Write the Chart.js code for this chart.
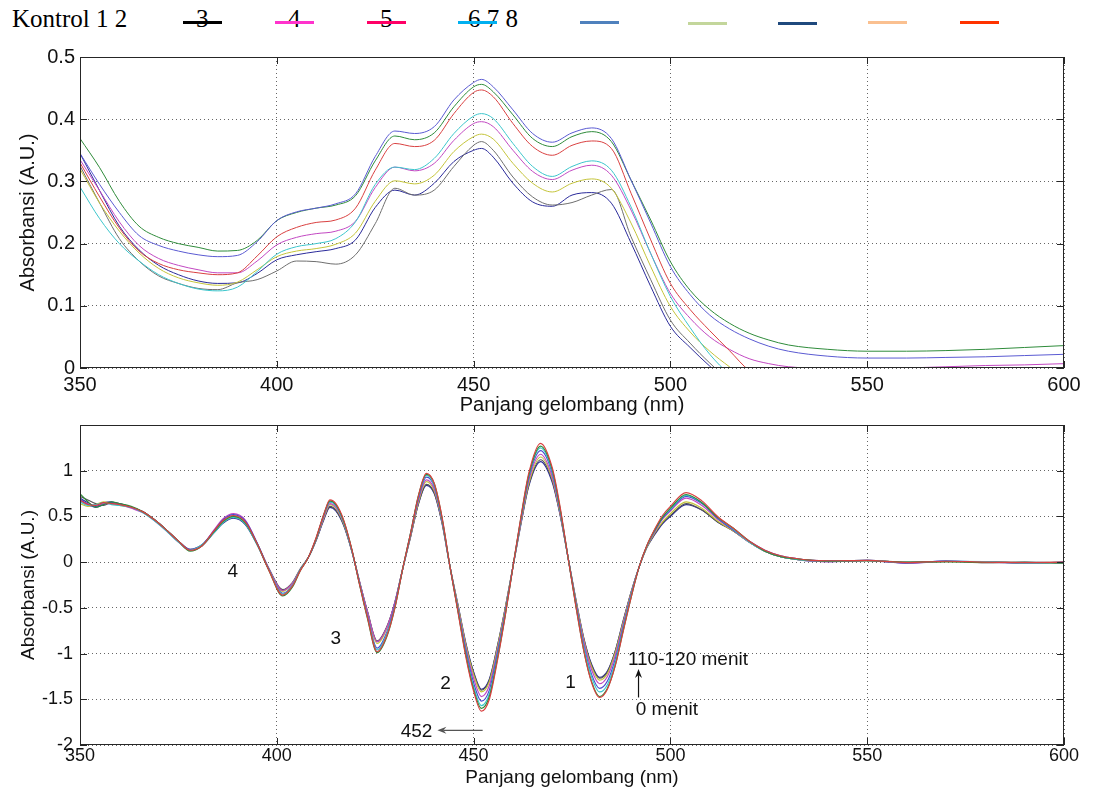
<!DOCTYPE html>
<html>
<head>
<meta charset="utf-8">
<title>Absorbansi</title>
<script src="https://cdn.jsdelivr.net/npm/chart.js@4.4.1/dist/chart.umd.min.js"></script>
<style>
  html, body { margin: 0; padding: 0; background: #fff; }
  #page { position: relative; width: 1093px; height: 790px; overflow: hidden; }
  .box { position: absolute; left: 0; width: 1093px; }
  #topBox { top: 40px; height: 380px; }
  #bottomBox { top: 400px; height: 390px; }
  .legend { position: absolute; top: 0; left: 0; width: 1093px; height: 40px;
    font-family: "Liberation Serif", "Times New Roman", serif; font-size: 25px; color: #000; }
  .legend span { position: absolute; top: 5px; line-height: 27px; white-space: pre; }
  .legend i { position: absolute; height: 3px; width: 39px; }
</style>
</head>
<body>
<div id="page">
  <div class="legend">
    <span style="left:12px">Kontrol 1 2</span>
    <span style="left:196px">3</span>
    <span style="left:288px">4</span>
    <span style="left:380px">5</span>
    <span style="left:468px">6 7 8</span>
    <i style="left:183px; top:21px; background:#000"></i>
    <i style="left:275px; top:21px; background:#ff33cc"></i>
    <i style="left:367px; top:21px; background:#ff0066"></i>
    <i style="left:458px; top:21px; background:#00b0f0"></i>
    <i style="left:580px; top:21px; background:#4f81bd"></i>
    <i style="left:688px; top:22px; background:#c3d69b"></i>
    <i style="left:778px; top:22px; background:#1f497d"></i>
    <i style="left:868px; top:21px; background:#fac090"></i>
    <i style="left:960px; top:21px; background:#ff3300"></i>
  </div>
  <div class="box" id="topBox"><canvas id="absorbansi"></canvas></div>
  <div class="box" id="bottomBox"><canvas id="derivatif"></canvas></div>
</div>

<script>
const FONT = '"Liberation Sans", Arial, Helvetica, sans-serif';

// ---------- spektrum absorbansi ----------
const TOP_WL = [350, 355, 360, 365, 370, 375, 380, 385, 390, 395,
  400, 405, 410, 415, 420, 425, 430, 435, 440, 445,
  450, 452, 455, 460, 465, 470, 475, 480, 485, 490,
  495, 500, 505, 510, 515, 520, 525, 530, 540, 550,
  560, 570, 580, 590, 600];

const topBlue = [0.345, 0.295, 0.250, 0.213, 0.197, 0.188, 0.182, 0.179, 0.181, 0.203,
  0.237, 0.251, 0.257, 0.264, 0.280, 0.340, 0.381, 0.377, 0.388, 0.431,
  0.459, 0.464, 0.452, 0.415, 0.377, 0.363, 0.378, 0.386, 0.369, 0.302,
  0.233, 0.163, 0.118, 0.085, 0.063, 0.047, 0.035, 0.027, 0.019, 0.016,
  0.016, 0.017, 0.018, 0.020, 0.022];
const topGreen = [0.369, 0.322, 0.268, 0.228, 0.210, 0.200, 0.194, 0.188, 0.189, 0.205,
  0.237, 0.250, 0.257, 0.262, 0.277, 0.333, 0.373, 0.367, 0.378, 0.420,
  0.452, 0.456, 0.444, 0.407, 0.369, 0.356, 0.372, 0.380, 0.364, 0.302,
  0.238, 0.171, 0.125, 0.094, 0.072, 0.056, 0.045, 0.037, 0.030, 0.027,
  0.027, 0.028, 0.030, 0.033, 0.036];
const topRed = [0.330, 0.275, 0.225, 0.188, 0.168, 0.158, 0.153, 0.150, 0.153, 0.180,
  0.211, 0.226, 0.234, 0.238, 0.257, 0.318, 0.361, 0.356, 0.366, 0.409,
  0.443, 0.447, 0.436, 0.393, 0.356, 0.342, 0.358, 0.365, 0.353, 0.281,
  0.206, 0.136, 0.094, 0.060, 0.028, -0.004, -0.020, -0.030, -0.040, -0.045,
  -0.050, -0.050, -0.050, -0.050, -0.050];
const topCyan = [0.291, 0.240, 0.200, 0.172, 0.150, 0.136, 0.127, 0.124, 0.130, 0.155,
  0.183, 0.195, 0.200, 0.208, 0.235, 0.295, 0.323, 0.319, 0.337, 0.377,
  0.405, 0.409, 0.401, 0.361, 0.324, 0.308, 0.324, 0.333, 0.318, 0.259,
  0.184, 0.115, 0.065, 0.022, -0.010, -0.030, -0.045, -0.050, -0.050, -0.050,
  -0.050, -0.050, -0.050, -0.050, -0.050];
const topMagenta = [0.335, 0.285, 0.235, 0.197, 0.176, 0.165, 0.158, 0.153, 0.153, 0.172,
  0.198, 0.210, 0.216, 0.220, 0.236, 0.290, 0.323, 0.317, 0.329, 0.366,
  0.393, 0.396, 0.388, 0.350, 0.316, 0.303, 0.318, 0.326, 0.310, 0.254,
  0.184, 0.120, 0.080, 0.050, 0.030, 0.015, 0.007, 0.002, -0.001, -0.002,
  0.000, 0.002, 0.004, 0.005, 0.007];
const topYellow = [0.320, 0.265, 0.220, 0.185, 0.160, 0.145, 0.137, 0.133, 0.138, 0.158,
  0.179, 0.188, 0.192, 0.199, 0.217, 0.268, 0.301, 0.296, 0.310, 0.348,
  0.372, 0.376, 0.368, 0.329, 0.297, 0.283, 0.297, 0.304, 0.289, 0.233,
  0.163, 0.099, 0.058, 0.027, 0.002, -0.020, -0.035, -0.045, -0.050, -0.050,
  -0.050, -0.050, -0.050, -0.050, -0.050];
const topGray = [0.325, 0.265, 0.208, 0.172, 0.148, 0.136, 0.128, 0.126, 0.137, 0.142,
  0.156, 0.172, 0.171, 0.167, 0.182, 0.232, 0.289, 0.278, 0.286, 0.324,
  0.358, 0.364, 0.350, 0.307, 0.275, 0.262, 0.266, 0.278, 0.287, 0.211,
  0.142, 0.077, 0.040, 0.008, -0.020, -0.040, -0.050, -0.050, -0.050, -0.050,
  -0.050, -0.050, -0.050, -0.050, -0.050];
const topNavy = [0.345, 0.285, 0.228, 0.190, 0.165, 0.150, 0.140, 0.136, 0.137, 0.152,
  0.174, 0.182, 0.187, 0.192, 0.206, 0.258, 0.286, 0.278, 0.297, 0.332,
  0.350, 0.353, 0.339, 0.297, 0.267, 0.260, 0.278, 0.282, 0.265, 0.201,
  0.131, 0.067, 0.033, 0.003, -0.025, -0.045, -0.050, -0.050, -0.050, -0.050,
  -0.050, -0.050, -0.050, -0.050, -0.050];

const X_TICKS = [350, 400, 450, 500, 550, 600];
const TOP_Y_TICKS = [0, 0.1, 0.2, 0.3, 0.4, 0.5];
const TOP_Y_LABELS = ["0", "0.1", "0.2", "0.3", "0.4", "0.5"];

// ---------- spektrum derivatif ----------
const BOT_WL = [350, 352, 354, 356, 358, 360, 363, 366, 369, 372, 375, 378, 381,
  384, 386.5, 389, 392, 395,
  398, 401.5, 404, 406,
  408,
  410, 412, 413.5, 415, 417, 419,
  421, 423, 425.5, 428, 430,
  432,
  434, 436, 438, 440, 442,
  444,
  446, 448, 450, 452, 454, 456, 458,
  460,
  462, 464, 467, 470, 472,
  474,
  476, 478, 480, 482, 484, 486, 488, 490,
  492, 494,
  496, 498, 500, 504, 508, 512, 516,
  520, 524, 528, 532, 536, 540, 550, 560, 570, 580, 590, 600];

const botRed = [0.68, 0.63, 0.62, 0.65, 0.64, 0.63, 0.60, 0.55, 0.46, 0.35, 0.23, 0.13, 0.18,
  0.34, 0.46, 0.51, 0.44, 0.20,
  -0.09, -0.36, -0.26, -0.09,
  0.05,
  0.27, 0.53, 0.68, 0.64, 0.46, 0.15,
  -0.24, -0.60, -0.98, -0.80, -0.50,
  -0.07,
  0.32, 0.73, 0.97, 0.86, 0.49,
  -0.05,
  -0.54, -1.03, -1.41, -1.63, -1.50, -1.09, -0.60,
  -0.05,
  0.49, 0.97, 1.30, 1.03, 0.60,
  0.05,
  -0.49, -0.97, -1.32, -1.48, -1.39, -1.13, -0.76, -0.39,
  -0.06, 0.18,
  0.36, 0.51, 0.61, 0.76, 0.67, 0.50, 0.37,
  0.23, 0.13, 0.07, 0.04, 0.02, 0.015, 0.02, -0.005, 0.01, 0.0, -0.005, 0.0];
const botGreen = [0.75, 0.66, 0.60, 0.63, 0.66, 0.64, 0.61, 0.55, 0.46, 0.35, 0.23, 0.12, 0.18,
  0.33, 0.45, 0.50, 0.43, 0.20,
  -0.09, -0.37, -0.27, -0.09,
  0.05,
  0.26, 0.53, 0.67, 0.63, 0.45, 0.15,
  -0.24, -0.61, -0.99, -0.81, -0.50,
  -0.07,
  0.32, 0.73, 0.96, 0.86, 0.48,
  -0.05,
  -0.53, -1.01, -1.39, -1.60, -1.47, -1.07, -0.59,
  -0.05,
  0.48, 0.95, 1.27, 1.01, 0.58,
  0.05,
  -0.48, -0.97, -1.31, -1.47, -1.38, -1.13, -0.75, -0.39,
  -0.06, 0.18,
  0.35, 0.49, 0.59, 0.74, 0.65, 0.49, 0.37,
  0.23, 0.12, 0.06, 0.035, 0.02, 0.01, 0.015, 0.0, 0.005, -0.005, 0.0, -0.01];
const botCyan = [0.66, 0.62, 0.63, 0.65, 0.63, 0.62, 0.60, 0.54, 0.45, 0.34, 0.22, 0.13, 0.19,
  0.32, 0.44, 0.49, 0.42, 0.19,
  -0.08, -0.35, -0.25, -0.08,
  0.05,
  0.26, 0.52, 0.66, 0.62, 0.44, 0.14,
  -0.23, -0.59, -0.96, -0.78, -0.49,
  -0.07,
  0.32, 0.72, 0.95, 0.84, 0.47,
  -0.05,
  -0.52, -0.99, -1.36, -1.57, -1.44, -1.05, -0.58,
  -0.05,
  0.47, 0.94, 1.25, 0.99, 0.57,
  0.05,
  -0.47, -0.93, -1.26, -1.42, -1.34, -1.09, -0.73, -0.37,
  -0.06, 0.17,
  0.35, 0.49, 0.58, 0.73, 0.65, 0.49, 0.36,
  0.22, 0.12, 0.06, 0.03, 0.015, 0.01, 0.02, -0.005, 0.01, 0.005, -0.01, -0.005];
const botBlue = [0.69, 0.63, 0.60, 0.63, 0.65, 0.64, 0.60, 0.55, 0.46, 0.35, 0.23, 0.14, 0.19,
  0.34, 0.47, 0.52, 0.45, 0.21,
  -0.08, -0.34, -0.25, -0.08,
  0.05,
  0.26, 0.52, 0.66, 0.62, 0.44, 0.14,
  -0.23, -0.58, -0.94, -0.76, -0.47,
  -0.07,
  0.31, 0.70, 0.93, 0.83, 0.46,
  -0.05,
  -0.51, -0.96, -1.32, -1.52, -1.40, -1.01, -0.56,
  -0.05,
  0.46, 0.92, 1.22, 0.97, 0.56,
  0.05,
  -0.45, -0.91, -1.23, -1.38, -1.30, -1.06, -0.71, -0.36,
  -0.06, 0.17,
  0.34, 0.48, 0.57, 0.72, 0.64, 0.48, 0.35,
  0.23, 0.13, 0.07, 0.04, 0.02, 0.015, 0.02, -0.01, 0.015, 0.0, -0.01, 0.0];
const botMagenta = [0.67, 0.64, 0.62, 0.64, 0.64, 0.63, 0.59, 0.54, 0.45, 0.34, 0.22, 0.13, 0.18,
  0.35, 0.48, 0.53, 0.46, 0.21,
  -0.07, -0.31, -0.23, -0.08,
  0.05,
  0.25, 0.50, 0.64, 0.60, 0.43, 0.14,
  -0.21, -0.54, -0.87, -0.71, -0.44,
  -0.07,
  0.30, 0.68, 0.90, 0.80, 0.45,
  -0.05,
  -0.49, -0.93, -1.27, -1.47, -1.35, -0.98, -0.54,
  -0.05,
  0.44, 0.89, 1.18, 0.93, 0.54,
  0.05,
  -0.44, -0.87, -1.18, -1.33, -1.25, -1.02, -0.68, -0.35,
  -0.06, 0.17,
  0.33, 0.47, 0.56, 0.70, 0.62, 0.47, 0.35,
  0.22, 0.12, 0.06, 0.03, 0.015, 0.005, 0.02, -0.01, 0.01, -0.005, 0.0, -0.01];
const botYellow = [0.64, 0.61, 0.63, 0.66, 0.64, 0.62, 0.60, 0.55, 0.46, 0.35, 0.23, 0.13, 0.18,
  0.33, 0.45, 0.50, 0.43, 0.20,
  -0.08, -0.32, -0.23, -0.08,
  0.05,
  0.25, 0.49, 0.63, 0.59, 0.42, 0.14,
  -0.22, -0.55, -0.89, -0.72, -0.45,
  -0.07,
  0.29, 0.66, 0.88, 0.78, 0.44,
  -0.05,
  -0.47, -0.90, -1.23, -1.42, -1.31, -0.95, -0.52,
  -0.05,
  0.43, 0.86, 1.15, 0.91, 0.53,
  0.05,
  -0.42, -0.85, -1.15, -1.29, -1.22, -0.99, -0.66, -0.34,
  -0.06, 0.16,
  0.32, 0.44, 0.53, 0.66, 0.59, 0.45, 0.34,
  0.22, 0.12, 0.06, 0.03, 0.015, 0.01, 0.015, -0.005, 0.005, 0.0, -0.005, -0.01];
const botGray = [0.72, 0.68, 0.64, 0.62, 0.65, 0.64, 0.60, 0.55, 0.46, 0.35, 0.23, 0.14, 0.19,
  0.33, 0.44, 0.49, 0.42, 0.20,
  -0.07, -0.30, -0.22, -0.07,
  0.05,
  0.24, 0.48, 0.61, 0.57, 0.41, 0.13,
  -0.21, -0.53, -0.86, -0.70, -0.44,
  -0.07,
  0.28, 0.64, 0.85, 0.76, 0.43,
  -0.05,
  -0.47, -0.89, -1.21, -1.40, -1.29, -0.93, -0.51,
  -0.05,
  0.42, 0.84, 1.12, 0.89, 0.52,
  0.05,
  -0.42, -0.84, -1.13, -1.27, -1.20, -0.97, -0.65, -0.33,
  -0.06, 0.16,
  0.31, 0.43, 0.51, 0.64, 0.57, 0.44, 0.34,
  0.22, 0.12, 0.06, 0.03, 0.02, 0.015, 0.02, 0.0, 0.01, 0.0, -0.005, 0.0];
const botNavy = [0.70, 0.65, 0.61, 0.65, 0.66, 0.63, 0.60, 0.55, 0.46, 0.35, 0.23, 0.13, 0.18,
  0.32, 0.43, 0.48, 0.41, 0.19,
  -0.08, -0.31, -0.23, -0.08,
  0.05,
  0.24, 0.47, 0.60, 0.56, 0.40, 0.13,
  -0.21, -0.54, -0.87, -0.71, -0.44,
  -0.07,
  0.28, 0.64, 0.84, 0.75, 0.42,
  -0.05,
  -0.46, -0.88, -1.20, -1.39, -1.28, -0.93, -0.51,
  -0.05,
  0.41, 0.83, 1.10, 0.87, 0.51,
  0.05,
  -0.41, -0.83, -1.12, -1.26, -1.19, -0.97, -0.64, -0.33,
  -0.06, 0.16,
  0.30, 0.42, 0.50, 0.63, 0.57, 0.44, 0.34,
  0.22, 0.12, 0.06, 0.03, 0.01, 0.005, 0.015, -0.01, 0.005, 0.005, -0.01, -0.005];

const BOT_Y_TICKS = [-2, -1.5, -1, -0.5, 0, 0.5, 1];
const BOT_Y_LABELS = ["-2", "-1.5", "-1", "-0.5", "0", "0.5", "1"];

// keterangan di dalam grafik derivatif (koordinat data: nm, A.U.)
const NOTES = [
  { text: "4", x: 388.8, y: -0.11, align: "center" },
  { text: "3", x: 415.0, y: -0.84, align: "center" },
  { text: "2", x: 442.9, y: -1.33, align: "center" },
  { text: "1", x: 474.6, y: -1.32, align: "center" },
  { text: "110-120 menit", x: 489.2, y: -1.07, align: "left" },
  { text: "0 menit", x: 491.2, y: -1.61, align: "left" },
  { text: "452", x: 435.5, y: -1.85, align: "center" },
];
const ARROWS = [
  { from: [491.9, -1.48], to: [491.9, -1.17], color: "#111" },
  { from: [452.3, -1.84], to: [440.8, -1.84], color: "#555" },
];

const TOP_COLORS = ["#5a5ad2", "#2e8b3a", "#d94040", "#3cc6cc", "#c248c2", "#c4c43a", "#6e6e6e", "#2a2a9a"];
const BOT_COLORS = ["#d94040", "#2e8b3a", "#3cc6cc", "#4a4ad0", "#c248c2", "#c4c43a", "#555555", "#2a2a9a"];

function toPoints(xs, ys) {
  return xs.map((x, i) => ({ x: x, y: ys[i] }));
}

function makeDatasets(xs, seriesList, colors, width) {
  return seriesList.map((ys, i) => ({
    data: toPoints(xs, ys),
    borderColor: colors[i],
    borderWidth: width,
    pointRadius: 0,
    cubicInterpolationMode: "monotone",
    fill: false,
  }));
}

// kotak sumbu dengan tanda tick di sisi dalam
const frame = {
  id: "frame",
  afterDatasetsDraw(chart) {
    const { ctx, chartArea: a, scales } = chart;
    const len = 7;
    ctx.save();
    ctx.strokeStyle = "#262626";
    ctx.lineWidth = 1;
    ctx.beginPath();
    scales.x.ticks.forEach((t) => {
      const px = Math.round(scales.x.getPixelForValue(t.value)) + 0.5;
      ctx.moveTo(px, a.bottom); ctx.lineTo(px, a.bottom - len);
      ctx.moveTo(px, a.top); ctx.lineTo(px, a.top + len);
    });
    scales.y.ticks.forEach((t) => {
      const py = Math.round(scales.y.getPixelForValue(t.value)) + 0.5;
      ctx.moveTo(a.left, py); ctx.lineTo(a.left + len, py);
      ctx.moveTo(a.right, py); ctx.lineTo(a.right - len, py);
    });
    ctx.stroke();
    ctx.strokeRect(Math.round(a.left) + 0.5, Math.round(a.top) + 0.5,
      Math.round(a.width) - 1, Math.round(a.height) - 1);
    ctx.restore();
  },
};

const notes = {
  id: "notes",
  afterDatasetsDraw(chart) {
    const { ctx, scales } = chart;
    ctx.save();
    ctx.font = "19px " + FONT;
    ctx.fillStyle = "#111";
    ctx.textBaseline = "middle";
    NOTES.forEach((n) => {
      ctx.textAlign = n.align;
      ctx.fillText(n.text, scales.x.getPixelForValue(n.x), scales.y.getPixelForValue(n.y));
    });
    ARROWS.forEach((ar) => {
      const x1 = scales.x.getPixelForValue(ar.from[0]);
      const y1 = scales.y.getPixelForValue(ar.from[1]);
      const x2 = scales.x.getPixelForValue(ar.to[0]);
      const y2 = scales.y.getPixelForValue(ar.to[1]);
      const c = Math.cos(Math.atan2(y2 - y1, x2 - x1));
      const s = Math.sin(Math.atan2(y2 - y1, x2 - x1));
      ctx.strokeStyle = ar.color;
      ctx.fillStyle = ar.color;
      ctx.lineWidth = 1.2;
      ctx.beginPath();
      ctx.moveTo(x1, y1);
      ctx.lineTo(x2 - 6 * c, y2 - 6 * s);
      ctx.stroke();
      // kepala panah
      ctx.beginPath();
      ctx.moveTo(x2, y2);
      ctx.lineTo(x2 - 9 * c + 3.5 * s, y2 - 9 * s - 3.5 * c);
      ctx.lineTo(x2 - 6 * c, y2 - 6 * s);
      ctx.lineTo(x2 - 9 * c - 3.5 * s, y2 - 9 * s + 3.5 * c);
      ctx.closePath();
      ctx.fill();
    });
    ctx.restore();
  },
};

function axisOptions(cfg) {
  return {
    x: {
      type: "linear",
      min: 350,
      max: 600,
      afterBuildTicks: (scale) => { scale.ticks = X_TICKS.map((v) => ({ value: v })); },
      afterFit: (scale) => { scale.height = cfg.xHeight; },
      grid: { color: "rgba(0,0,0,0.6)", lineWidth: 1, drawTicks: false },
      border: { display: false, dash: [1, 3] },
      ticks: { color: "#111", padding: cfg.xPad, maxRotation: 0, font: { family: FONT, size: cfg.tickSize }, callback: (v) => String(v) },
      title: { display: true, text: "Panjang gelombang (nm)", color: "#111", padding: { top: 0, bottom: cfg.titleBottom }, font: { family: FONT, size: cfg.titleSize } },
    },
    y: {
      min: cfg.yMin,
      max: cfg.yMax,
      afterBuildTicks: (scale) => { scale.ticks = cfg.yTicks.map((v) => ({ value: v })); },
      afterFit: (scale) => { scale.width = cfg.yWidth; },
      grid: { color: "rgba(0,0,0,0.6)", lineWidth: 1, drawTicks: false },
      border: { display: false, dash: [1, 3] },
      ticks: { color: "#111", padding: cfg.yPad, font: { family: FONT, size: cfg.tickSize }, callback: (v, i) => cfg.yLabels[i] },
      title: { display: true, text: "Absorbansi (A.U.)", color: "#111", padding: { top: 4, bottom: 4 }, font: { family: FONT, size: cfg.titleSize } },
    },
  };
}

new Chart(document.getElementById("absorbansi"), {
  type: "line",
  data: {
    datasets: makeDatasets(TOP_WL,
      [topBlue, topGreen, topRed, topCyan, topMagenta, topYellow, topGray, topNavy], TOP_COLORS, 1),
  },
  options: {
    responsive: true,
    maintainAspectRatio: false,
    animation: false,
    events: [],
    layout: { padding: { top: 17, left: 12, right: 29, bottom: 1 } },
    plugins: { legend: { display: false }, tooltip: { enabled: false } },
    scales: axisOptions({
      xHeight: 51, yWidth: 68, xPad: 5, yPad: 5, tickSize: 20, titleSize: 20, titleBottom: 2,
      yMin: 0, yMax: 0.5, yTicks: TOP_Y_TICKS, yLabels: TOP_Y_LABELS,
    }),
  },
  plugins: [frame],
});

new Chart(document.getElementById("derivatif"), {
  type: "line",
  data: {
    datasets: makeDatasets(BOT_WL,
      [botRed, botGreen, botCyan, botBlue, botMagenta, botYellow, botGray, botNavy], BOT_COLORS, 1.2),
  },
  options: {
    responsive: true,
    maintainAspectRatio: false,
    animation: false,
    events: [],
    layout: { padding: { top: 25, left: 13, right: 29, bottom: 1 } },
    plugins: { legend: { display: false }, tooltip: { enabled: false } },
    scales: axisOptions({
      xHeight: 44, yWidth: 67, xPad: 0, yPad: 7, tickSize: 18, titleSize: 19, titleBottom: 0,
      yMin: -2, yMax: 1.5, yTicks: BOT_Y_TICKS, yLabels: BOT_Y_LABELS,
    }),
  },
  plugins: [frame, notes],
});
</script>
</body>
</html>
